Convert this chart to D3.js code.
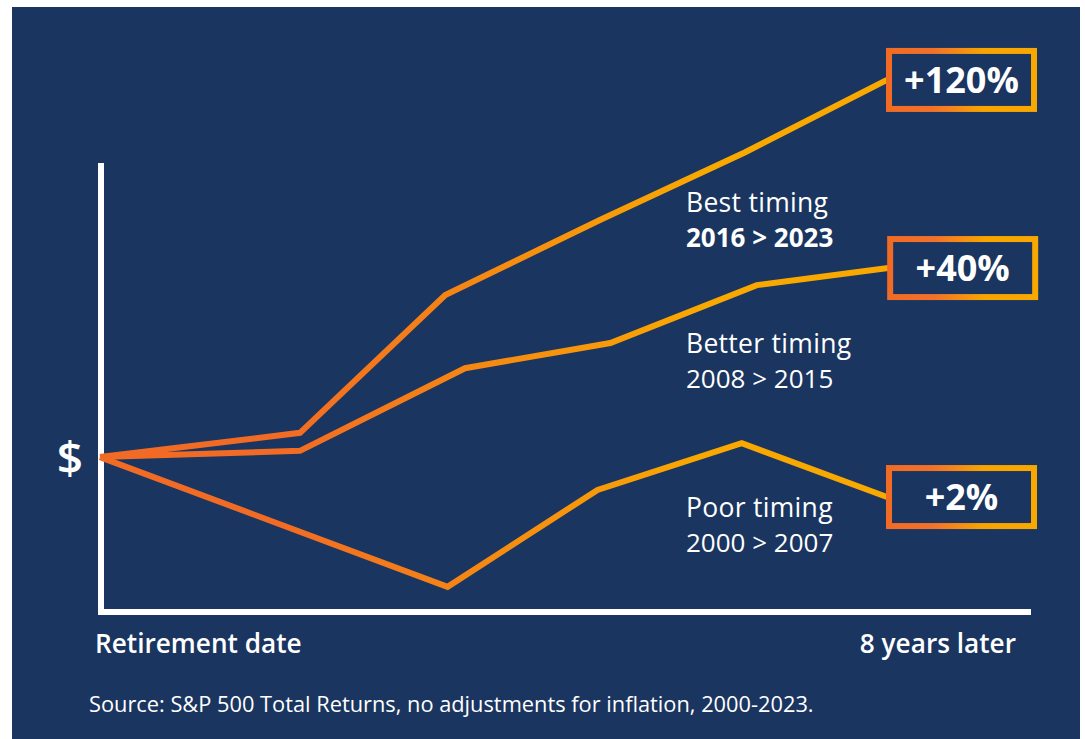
<!DOCTYPE html>
<html>
<head>
<meta charset="utf-8">
<script src="https://cdn.jsdelivr.net/npm/d3@7/dist/d3.min.js"></script>
<style>
  html, body { margin: 0; padding: 0; background: #ffffff; }
  svg { display: block; }
  text { font-family: "Open Sans", "Noto Sans", sans-serif; fill: #ffffff; }
</style>
</head>
<body>
<svg id="chart" width="1085" height="739"></svg>
<script>
// ---- data ----
const categories = ["Best timing", "Better timing", "Poor timing"];
const periods = ["2016 > 2023", "2008 > 2015", "2000 > 2007"];
const returnLabels = ["+120%", "+40%", "+2%"];
// x in years after retirement (stylised), y in relative portfolio value units
const bestX   = [0, 1.72, 2.97, 4.30, 5.55, 6.77];
const bestY   = [34.5, 39.9, 70.6, 87.3, 102.4, 118.5];
const betterX = [0, 1.72, 3.14, 4.39, 5.65, 6.78];
const betterY = [34.5, 35.9, 54.3, 59.9, 72.8, 76.6];
const poorX   = [0, 2.99, 4.28, 5.52, 6.77];
const poorY   = [34.5, 5.6, 27.2, 37.6, 25.6];
const axisLabels = ["Retirement date", "8 years later"];
const startLabel = "$";
const source = "Source: S&P 500 Total Returns, no adjustments for inflation, 2000-2023.";

const seriesX = [bestX, betterX, poorX];
const seriesY = [bestY, betterY, poorY];

// ---- drawing ----
const svg = d3.select("#chart");
const bg = "#1a3560";
const orange = "#f26b24";
const amber = "#f9a800";

svg.append("rect").attr("x", 12).attr("y", 7).attr("width", 1068).attr("height", 732).attr("fill", bg);

const x = d3.scaleLinear().domain([0, 8]).range([100, 1030]);
const y = d3.scaleLinear().domain([0, 100]).range([612, 163]);

const defs = svg.append("defs");
const lg = defs.append("linearGradient").attr("id", "lineGrad")
  .attr("gradientUnits", "userSpaceOnUse")
  .attr("x1", 280).attr("y1", 0).attr("x2", 700).attr("y2", 0);
lg.append("stop").attr("offset", 0).attr("stop-color", orange);
lg.append("stop").attr("offset", 1).attr("stop-color", amber);

const bgGrad = defs.append("linearGradient").attr("id", "boxGrad")
  .attr("x1", 0).attr("y1", 0).attr("x2", 1).attr("y2", 0);
bgGrad.append("stop").attr("offset", 0).attr("stop-color", orange);
bgGrad.append("stop").attr("offset", 0.3).attr("stop-color", "#f2712a");
bgGrad.append("stop").attr("offset", 0.65).attr("stop-color", "#f8a400");
bgGrad.append("stop").attr("offset", 1).attr("stop-color", amber);

// axes (custom white L-shaped axis)
const g = svg.append("g");
g.append("line").attr("x1", x(0) + 1).attr("x2", x(0) + 1)
  .attr("y1", y(100)).attr("y2", y(0) + 3)
  .attr("stroke", "#ffffff").attr("stroke-width", 6);
g.append("line").attr("x1", x(0) - 2).attr("x2", x(8) + 1)
  .attr("y1", y(0)).attr("y2", y(0))
  .attr("stroke", "#ffffff").attr("stroke-width", 6);

// lines
const line = d3.line().x(d => x(d[0])).y(d => y(d[1]));
[2, 1, 0].forEach(i => {
  const pts = seriesX[i].map((v, j) => [v, seriesY[i][j]]);
  g.append("path").attr("d", line(pts))
    .attr("fill", "none").attr("stroke", "url(#lineGrad)")
    .attr("stroke-width", 6).attr("stroke-linejoin", "miter");
});

// end boxes with return labels
const boxW = 145, boxH = 58;
seriesX.forEach((xs, i) => {
  const ex = x(xs[xs.length - 1]);
  const ey = y(seriesY[i][seriesY[i].length - 1]);
  const bx = ex + 2;
  g.append("rect").attr("x", bx).attr("y", ey - boxH / 2)
    .attr("width", boxW).attr("height", boxH)
    .attr("fill", bg).attr("stroke", "url(#boxGrad)").attr("stroke-width", 6);
  g.append("text").attr("x", bx + boxW / 2).attr("y", ey + 13)
    .attr("text-anchor", "middle").attr("font-size", 36).attr("font-weight", 700)
    .text(returnLabels[i]);
});

// series labels
const labelPos = [[686, 212], [686, 353], [686, 517]];
categories.forEach((c, i) => {
  const [lx, ly] = labelPos[i];
  g.append("text").attr("x", lx).attr("y", ly).attr("font-size", 26.5)
    .attr("letter-spacing", 0.3).attr("font-weight", 500).text(c);
  g.append("text").attr("x", lx).attr("y", ly + 35).attr("font-size", 26)
    .attr("font-weight", i === 0 ? 700 : 500).text(periods[i]);
});

// $ label
g.append("text").attr("x", 70).attr("y", y(bestY[0]) + 17).attr("text-anchor", "middle")
  .attr("font-size", 46).attr("font-weight", 600).text(startLabel);

// axis labels
g.append("text").attr("x", 95).attr("y", 653).attr("font-size", 26.2).attr("font-weight", 600).text(axisLabels[0]);
g.append("text").attr("x", 1016).attr("y", 653).attr("text-anchor", "end").attr("font-size", 26.2).attr("font-weight", 600).text(axisLabels[1]);

// source
g.append("text").attr("x", 89).attr("y", 712).attr("font-size", 21.8).attr("font-weight", 400).text(source);
</script>
</body>
</html>
